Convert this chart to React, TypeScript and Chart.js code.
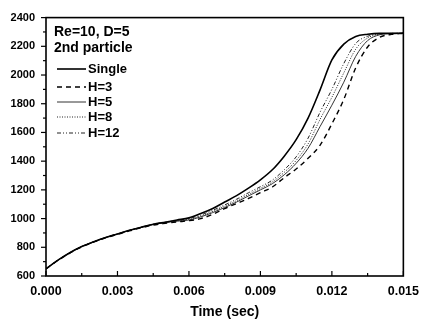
import React, { useEffect, useRef } from 'react';
import { Chart, registerables } from 'chart.js';
Chart.register(...registerables);

const TIME = [0, 0.0005, 0.001, 0.0015, 0.002, 0.0025, 0.003, 0.0035, 0.004, 0.0045, 0.005, 0.0055, 0.006, 0.0065, 0.007, 0.0075, 0.008, 0.0085, 0.009, 0.0095, 0.01, 0.0105, 0.011, 0.0115, 0.012, 0.0125, 0.013, 0.0135, 0.014, 0.0145, 0.015];
const SINGLE = [650, 710, 762, 805, 838, 868, 893, 918, 940, 960, 975, 990, 1005, 1035, 1070, 1115, 1160, 1212, 1270, 1340, 1435, 1550, 1700, 1895, 2105, 2215, 2268, 2284, 2290, 2290, 2292];
const H3 = [650, 708, 760, 803, 836, 866, 890, 914, 936, 955, 967, 977, 985, 1000, 1030, 1070, 1105, 1140, 1180, 1220, 1285, 1345, 1420, 1510, 1660, 1830, 2050, 2195, 2262, 2283, 2290];
const H5 = [650, 710, 762, 805, 838, 868, 893, 918, 940, 959, 972, 982, 990, 1012, 1042, 1077, 1115, 1158, 1200, 1243, 1305, 1385, 1490, 1640, 1790, 1950, 2130, 2240, 2280, 2289, 2291];
const H8 = [650, 710, 762, 805, 838, 868, 893, 918, 940, 960, 974, 985, 995, 1018, 1050, 1086, 1125, 1168, 1210, 1255, 1322, 1405, 1520, 1690, 1845, 2015, 2180, 2258, 2284, 2290, 2291];
const H12 = [650, 710, 762, 805, 838, 868, 893, 918, 940, 960, 975, 987, 1000, 1025, 1058, 1095, 1135, 1180, 1222, 1268, 1340, 1430, 1560, 1740, 1900, 2080, 2220, 2270, 2286, 2290, 2291];

const SERIES_LABELS = ['Single', 'H=3', 'H=5', 'H=8', 'H=12'];
const SERIES_VALUES = [SINGLE, H3, H5, H8, H12];
const LEGEND_TITLE = ['Re=10, D=5', '2nd particle'];
const X_TITLE = 'Time (sec)';

const STYLES = [
  { color: '#000', width: 1.6, dash: [] as number[] },
  { color: '#000', width: 1.4, dash: [5, 4] },
  { color: '#333', width: 1, dash: [] as number[] },
  { color: '#222', width: 1, dash: [1, 1.5] },
  { color: '#222', width: 1, dash: [4, 2, 1, 2, 1, 2] },
];

const FONT = '"Liberation Sans", Arial, sans-serif';

const framePlugin = {
  id: 'frameAndLegend',
  afterDraw(chart: any) {
    const { ctx, chartArea: a, scales } = chart;
    const xs = scales.x;
    const ys = scales.y;
    ctx.save();
    ctx.strokeStyle = '#000';
    ctx.lineWidth = 1.6;
    ctx.setLineDash([]);
    ctx.strokeRect(a.left, a.top, a.right - a.left, a.bottom - a.top);
    ctx.lineWidth = 1.2;
    for (let v = 600; v <= 2400; v += 100) {
      const y = ys.getPixelForValue(v);
      const len = v % 200 === 0 ? 5 : 3;
      ctx.beginPath();
      ctx.moveTo(a.left - len, y);
      ctx.lineTo(a.left, y);
      ctx.stroke();
    }
    for (let i = 0; i <= 10; i++) {
      const v = i * 0.0015;
      const x = xs.getPixelForValue(v);
      const len = i % 2 === 0 ? 5 : 3;
      ctx.beginPath();
      ctx.moveTo(x, a.bottom);
      ctx.lineTo(x, a.bottom - len);
      ctx.stroke();
    }
    ctx.fillStyle = '#000';
    ctx.textBaseline = 'middle';
    ctx.textAlign = 'left';
    ctx.font = `bold 14px ${FONT}`;
    ctx.fillText(LEGEND_TITLE[0], 54, 32);
    ctx.fillText(LEGEND_TITLE[1], 54, 48);
    const rows = [69, 87, 102, 117, 133];
    ctx.font = `bold 13px ${FONT}`;
    SERIES_LABELS.forEach((lab, i) => {
      const st = STYLES[i];
      ctx.strokeStyle = st.color;
      ctx.lineWidth = st.width;
      ctx.setLineDash(st.dash);
      ctx.beginPath();
      ctx.moveTo(57, rows[i]);
      ctx.lineTo(86, rows[i]);
      ctx.stroke();
      ctx.fillText(lab, 88, rows[i]);
    });
    ctx.restore();
  },
};

export default function App() {
  const ref = useRef<HTMLCanvasElement>(null);
  useEffect(() => {
    const datasets = SERIES_LABELS.map((label, i) => ({
      label,
      data: TIME.map((t, j) => ({ x: t, y: SERIES_VALUES[i][j] })),
      borderColor: STYLES[i].color,
      borderWidth: STYLES[i].width,
      borderDash: STYLES[i].dash,
      pointRadius: 0,
      fill: false,
      cubicInterpolationMode: 'monotone' as const,
    }));
    const chart = new Chart(ref.current!, {
      type: 'line',
      data: { datasets },
      options: {
        animation: false,
        responsive: false,
        devicePixelRatio: 1,
        layout: { padding: { top: 13, right: 14, left: 0, bottom: 0 } },
        plugins: { legend: { display: false }, tooltip: { enabled: false } },
        scales: {
          x: {
            type: 'linear',
            min: 0,
            max: 0.015,
            grid: { display: false, drawTicks: false },
            border: { display: false },
            ticks: {
              stepSize: 0.003,
              padding: 8,
              color: '#000',
              font: { family: FONT, size: 12.5, weight: 'bold' },
              maxRotation: 0,
              callback: (v: any) => Number(v).toFixed(3),
            },
            title: {
              display: true,
              text: X_TITLE,
              color: '#000',
              font: { family: FONT, size: 14, weight: 'bold' },
              padding: { top: 0, bottom: 1 },
            },
            afterFit: (s: any) => { s.height = 46; },
          },
          y: {
            min: 600,
            max: 2400,
            grid: { display: false, drawTicks: false },
            border: { display: false },
            ticks: {
              stepSize: 200,
              padding: 11,
              color: '#000',
              font: { family: FONT, size: 11, weight: 'bold' },
              callback: (v: any) => String(v),
            },
            afterFit: (s: any) => { s.width = 46; },
          },
        },
      },
      plugins: [framePlugin],
    } as any);
    return () => chart.destroy();
  }, []);
  return (
    <div style={{ position: 'fixed', left: 0, top: 0, width: 427, height: 322, background: '#fff' }}>
      <canvas ref={ref} width={427} height={322} style={{ width: 427, height: 322, display: 'block' }} />
    </div>
  );
}
